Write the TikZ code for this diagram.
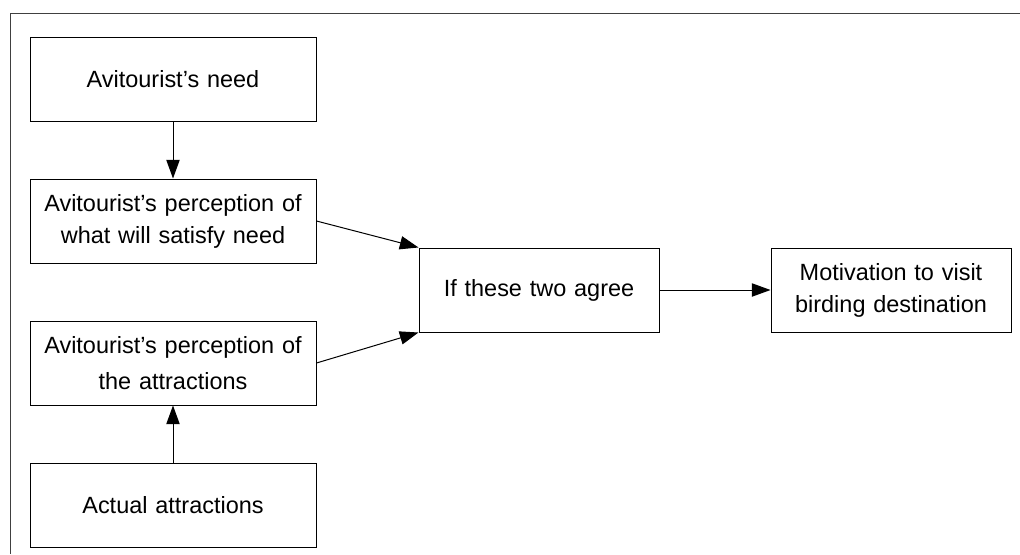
\documentclass[tikz,border=0pt]{standalone}
\usepackage{fontspec}
\setmainfont{Liberation Sans}
\usetikzlibrary{positioning, calc, arrows.meta}
\tikzstyle{box} = [rectangle, minimum width=214.5pt, minimum height=63pt, text width=208pt, align=center, draw=black, line width=0.75pt, font=\fontsize{17.6}{24}\selectfont]
\tikzstyle{wide} = [box, minimum width=180pt, text width=172pt]
\tikzstyle{arrow} = [line width=0.75pt, -{Triangle[length=14pt, width=10pt]}]
\tikzstyle{frame} = [line width=0.75pt, draw=black!75]

\begin{document}
\begin{tikzpicture}
\useasboundingbox (0,0) rectangle (765pt,-415.5pt);
\draw [frame] (765pt,-9.75pt) -- (7.5pt,-9.75pt) -- (7.5pt,-415.5pt);

%% NODES
\node (need) [box, inner sep=2pt] at (129.75pt,-59.25pt) {Avitourist's need};
\node (percneed) [box, inner sep=2pt, below=42.75pt of need] {Avitourist's perception of\\what will satisfy need};
\node (percattr) [box, inner sep=2pt, below=42.75pt of percneed] {Avitourist's perception of\\[3pt]the attractions};
\node (actual) [box, inner sep=2pt, below=42.75pt of percattr] {Actual attractions};
\coordinate (mid) at ($(percneed.east)!0.5!(percattr.east)+(0,1.5pt)$);
\node (agree) [wide, right=76.5pt of mid] {If these two agree};
\node (motivation) [wide, right=83.25pt of agree] {Motivation to visit\\birding destination};

%% ARROWS
\draw [arrow] (need) -- (percneed);
\draw [arrow] (actual) -- (percattr);
\draw [arrow] (percneed.east) -- (agree.north west);
\draw [arrow] (percattr.east) -- (agree.south west);
\draw [arrow] (agree) -- (motivation);
\end{tikzpicture}
\end{document}
